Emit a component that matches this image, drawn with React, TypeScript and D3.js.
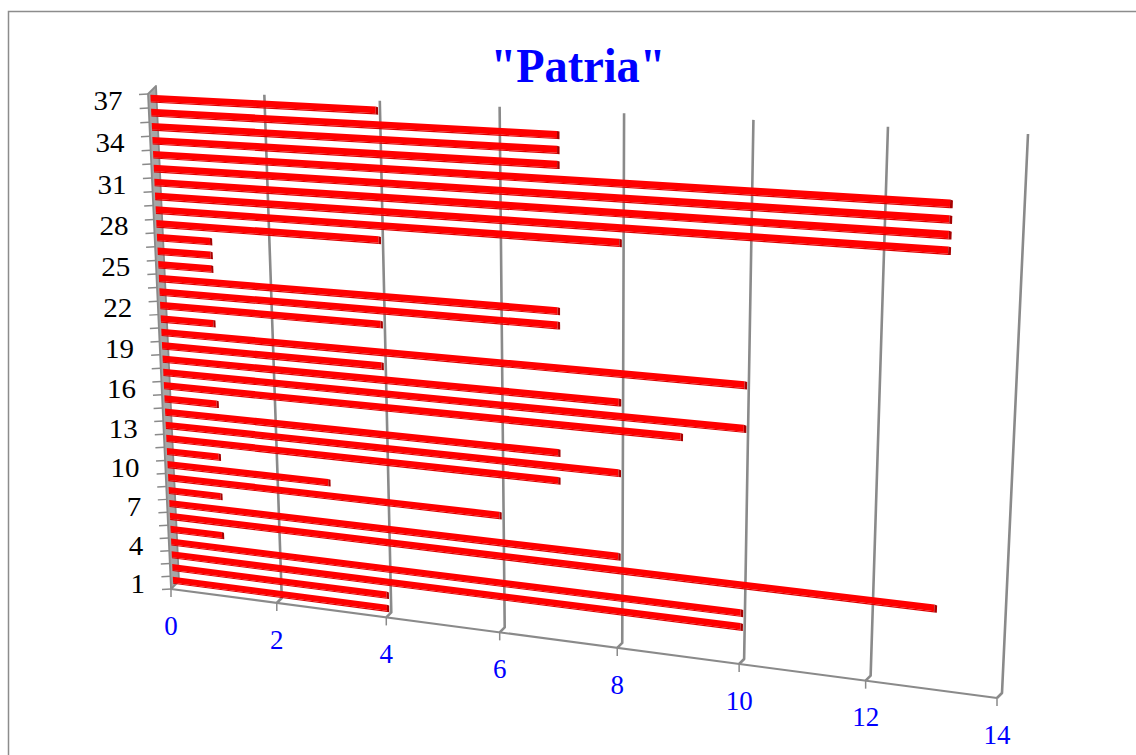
import React from "react";
import * as d3 from "d3";

const titleText = '"Patria"';
const categories = d3.range(1, 38);
const values = [4,4,10,10,1,13,8,1,6,3,1,7,8,7,1,9,10,8,4,10,1,4,7,7,1,1,1,4,8,13,13,13,13,7,7,7,4];
const valueTicks = [0,2,4,6,8,10,12,14];
const categoryLabels = [1,4,7,10,13,16,19,22,25,28,31,34,37];

// Corners of the chart's back wall, in the 3-D view
const quad = [[176,584],[1002,693],[1028,134],[153,89]];
const depthOffset: [number, number] = [-5, 5];

function homography(q: number[][]) {
  const [[x0,y0],[x1,y1],[x2,y2],[x3,y3]] = q;
  const sx = x0-x1+x2-x3, sy = y0-y1+y2-y3;
  const dx1 = x1-x2, dx2 = x3-x2, dy1 = y1-y2, dy2 = y3-y2;
  const det = dx1*dy2-dx2*dy1;
  const g = (sx*dy2-dx2*sy)/det, h = (dx1*sy-sx*dy1)/det;
  const a = x1-x0+g*x1, b = x3-x0+h*x3, d = y1-y0+g*y1, e = y3-y0+h*y3;
  return (u: number, v: number): [number, number] => {
    const w = g*u+h*v+1;
    return [(a*u+b*v+x0)/w, (d*u+e*v+y0)/w];
  };
}
const H = homography(quad);
const uScale = d3.scaleLinear().domain([0,14]).range([0,1]);
const vScale = d3.scaleLinear().domain([0,37]).range([0,1]);
const project = (value: number, rank: number, t = 0): [number, number] => {
  const [x,y] = H(uScale(value), vScale(rank));
  return [x+depthOffset[0]*t, y+depthOffset[1]*t];
};
const poly = d3.line();
const closed = (pts: [number,number][]) => poly(pts)+"Z";

const gridColor = "#8a8a8a";
const serif = "'Liberation Serif', serif";
const BAR_T = 0.55, HW = 0.235, STRIP = 0.08, CAP = 0.04, END = -0.025;

function Bar({cat, value}: {cat: number, value: number}) {
  const r = cat-0.45;
  const low = r-HW-STRIP;
  const e = value+END;
  const f = closed([project(0,r+HW,BAR_T),project(e,r+HW,BAR_T),project(e,r-HW,BAR_T),project(0,r-HW,BAR_T)]);
  const s = closed([project(0,r-HW,BAR_T),project(e,r-HW,BAR_T),project(e,low,BAR_T),project(0,low,BAR_T)]);
  const c = closed([project(e,r+HW,BAR_T),project(e+CAP,r+HW-0.04,BAR_T),project(e+CAP,low,BAR_T),project(e,low,BAR_T)]);
  return <g>
    <path d={s} fill="#dc0000" />
    <path d={f} fill="#ff0000" />
    <path d={c} fill="#a80000" />
  </g>;
}

const Digits = ({x,y,label,fill,w}: {x:number,y:number,label:number,fill:string,w:number}) => {
  const s = String(label);
  return <text x={x} y={y} dy="0.35em" textAnchor="end" fontFamily={serif} fontSize={28} fill={fill}
    textLength={s.length*w} lengthAdjust="spacingAndGlyphs">{s}</text>;
};

export default function App() {
  const wall = closed([project(0,0,1),project(0,37,1),project(0,37,-0.6),project(0,0,-0.6)]);
  return (
    <svg width={1136} height={755} viewBox="0 0 1136 755" style={{position:"absolute",left:0,top:0,display:"block",background:"#fff"}}>
      <defs><filter id="soft" x="-2%" y="-2%" width="104%" height="104%"><feGaussianBlur stdDeviation="0.3" /></filter></defs>
      <path d="M8.5 755V11.5H1136" fill="none" stroke="#8c8c8c" strokeWidth={1.5} />
      <text x={578} y={82} textAnchor="middle" fontFamily={serif} fontWeight="bold" fontSize={49} fill="#0000ff"
        textLength={175} lengthAdjust="spacingAndGlyphs">{titleText}</text>

      <path d={wall} fill="#a6a6a6" stroke={gridColor} strokeWidth={1.8} strokeLinejoin="round" />

      {valueTicks.map(v => {
        const a = project(v,0,1), b = project(v,0,0), c = project(v,37,0);
        const s = String(v);
        return <g key={v}>
          {v > 0 && <path d={poly([a,b,c])!} fill="none" stroke={gridColor} strokeWidth={2.6} strokeLinejoin="round" />}
          <line x1={a[0]} y1={a[1]} x2={a[0]} y2={a[1]+8} stroke={gridColor} strokeWidth={1.5} />
          <Digits x={a[0]+s.length*13.5/2} y={a[1]+36} label={v} fill="#0000ff" w={13.5} />
        </g>;
      })}
      <path d={poly([project(0,0,1),project(14,0,1)])!} fill="none" stroke={gridColor} strokeWidth={2.2} />

      {d3.range(0,38).map(k => {
        const p = project(0,k,1);
        return <line key={k} x1={p[0]} y1={p[1]} x2={p[0]-9} y2={p[1]+0.5} stroke={gridColor} strokeWidth={1.5} />;
      })}
      {categoryLabels.map(c => {
        const p = project(0,c-0.5,BAR_T);
        return <Digits key={c} x={p[0]-28} y={p[1]+3-(c/37)*2} label={c} fill="#000" w={14.5} />;
      })}

      <g filter="url(#soft)">
        {categories.map((c,i) => <Bar key={c} cat={c} value={values[i]} />)}
      </g>
    </svg>
  );
}
